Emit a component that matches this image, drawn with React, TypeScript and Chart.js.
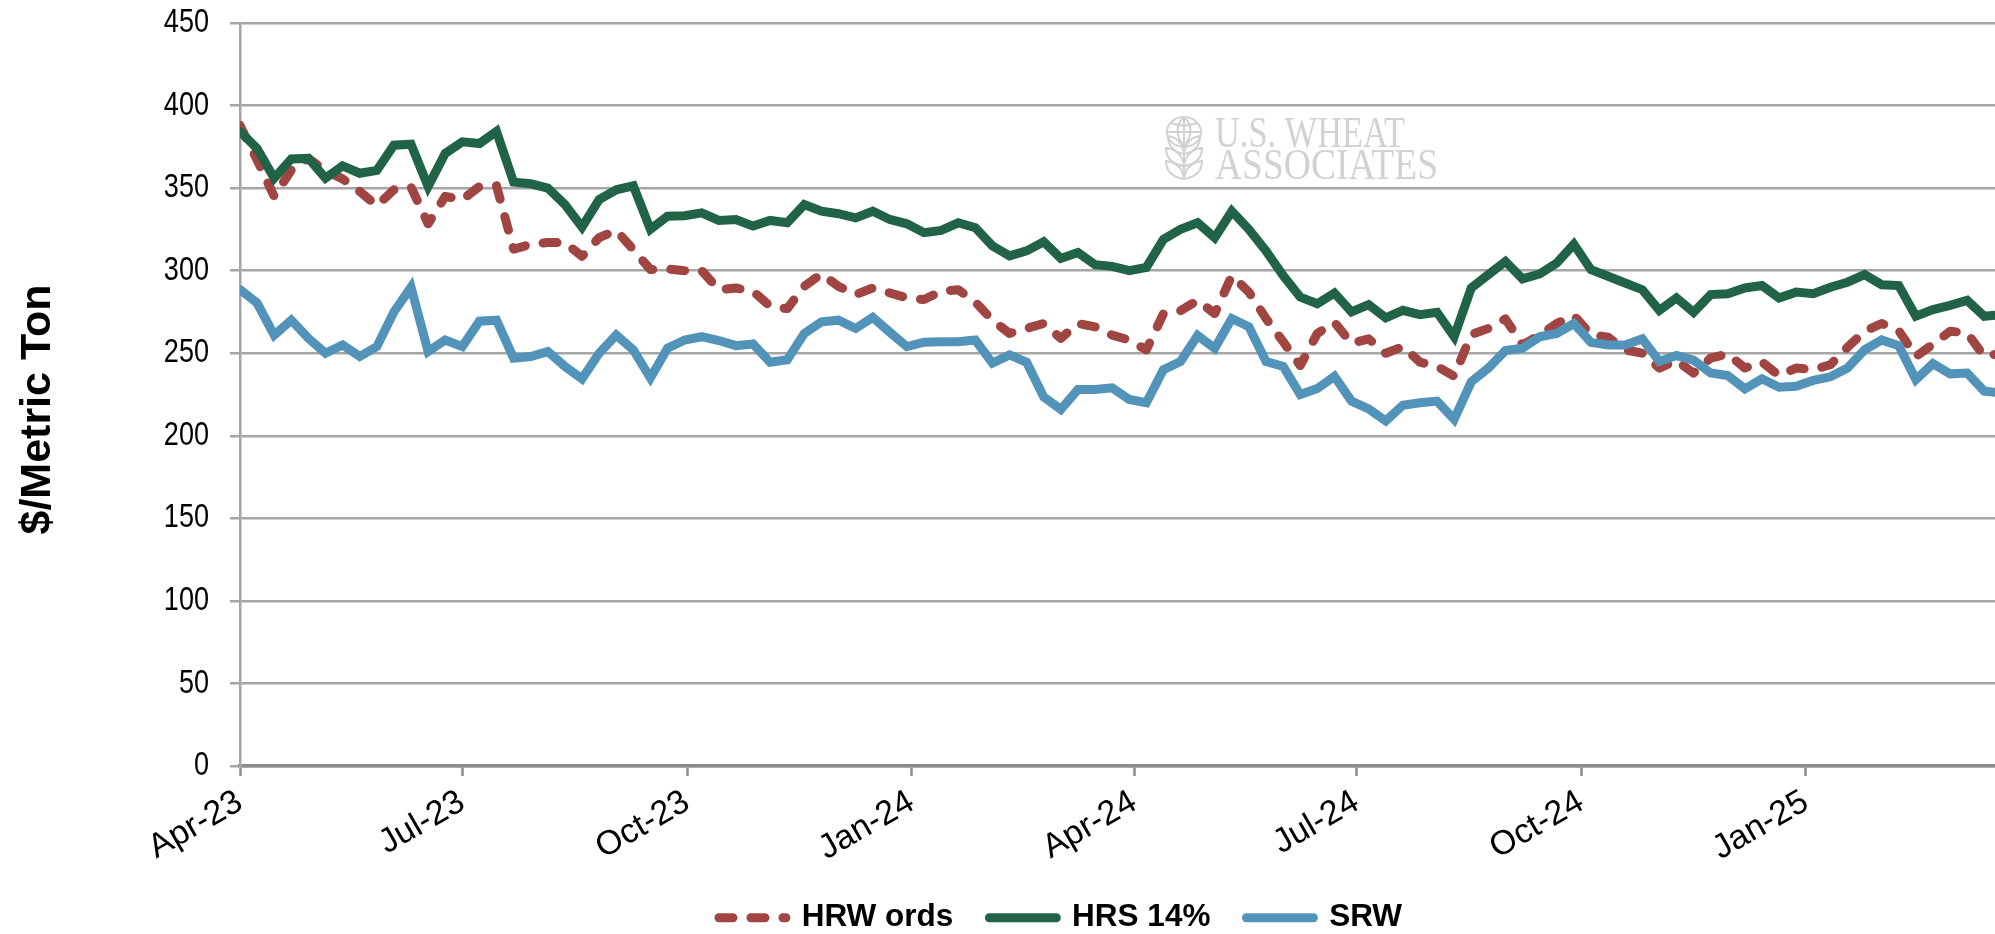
import React, { useEffect, useRef } from "react";
import { Chart, registerables, Scale } from "chart.js";

Chart.register(...registerables);

const hrwOrds = [388,367,345,361,368,360.5,355.6,348,339.3,349,350.6,328.4,345,343,351,351.4,313,316,317,317,308.7,320,324.4,312.7,300.7,301,300,300,288.5,289.5,287.5,278.4,277,290.5,298,290.5,285.5,289.5,286.5,283.5,282.5,287.5,288.5,281,270,262,265,268,259,268,266,261,258,252,274,275.7,282,274,297,287,271,257,242.5,262,268.7,256,258.7,250,254,244.6,242,236,261.3,265,270.8,255,261,268,272.8,261.3,259.7,252,250,241,245.6,238,247,249.6,241,244.8,236.5,241,240,243,253.6,263.3,268,263.7,248,255.4,263.3,262.3,248,250];
const hrs14 = [384.3,374,356,367.7,368,356,363.5,359,360.7,376,376.6,351,371,378,377,384.3,353.6,352.6,350,340,326.4,343,349,351.4,325,333,333.3,335,330.4,331,327,330.4,329,340,336,334.5,332,336,331,328.4,323,324.4,329,326,315,309,312,317.5,307.4,311,303.6,302.6,300,302,319,325,329,320,336,325,312,297,284,280,286.5,275,279.4,271.4,276,273.4,274.8,260,289.5,297.6,305.6,295,298,304.6,316,300.6,296.6,292.5,288.5,276,283.5,274.8,285.5,286,289.5,291,283.5,287,286,290,293,297.6,291.5,291,272.4,276.4,279,282,272.4,273.4];
const srw = [288.5,280.4,261,270,259,250,255,248,254,275,290,251,258,254,269.4,270,247,248,251,242,234.5,250,261,252,235,253,258,260,257.7,254.6,255.6,244.5,246,262,269,270,265,271.7,262.7,254,256.7,257,257,258,244,249,244.5,223.5,216,228,228,229,222,220,240,245,260.7,253,271,266,245,242,225,228.6,236,221,216.3,209,218.5,220,221,210,232.7,241,251.6,253,260,262,268,256.6,255,255,258.7,245,248.6,245.8,238,236.5,228.4,234.5,229.4,230,233.5,235.7,241,252,258,254.6,234,243.7,237.5,238,227,226];

const tickDays = [0, 91, 183, 275, 366, 457, 549, 641];
const tickLabels = ["Apr-23", "Jul-23", "Oct-23", "Jan-24", "Apr-24", "Jul-24", "Oct-24", "Jan-25"];
const seriesNames = ["HRW ords", "HRS 14%", "SRW"];
const DAYS_PER_WEEK = 7;

const W = 1995;
const H = 934;
const LEFT = 240;
const TOP = 23;
const BOTTOM = 766;
const GRID = "#A6A6A6";
const AXIS = "#8C8C8C";
const LOGO = "#D2D2D2";
const LINE = 9;
const DASH = [14, 18];

const toPoints = (vals: number[]) => vals.map((y, i) => ({ x: i * DAYS_PER_WEEK, y }));

const watermark = {
  id: "watermark",
  beforeDatasetsDraw(chart: any) {
    const c = chart.ctx;
    c.save();
    c.fillStyle = LOGO;
    c.strokeStyle = LOGO;
    c.textBaseline = "alphabetic";
    c.textAlign = "left";
    c.font = '45px "Liberation Serif"';
    c.fillText("U.S. WHEAT", 1215, 147, 190);
    c.fillText("ASSOCIATES", 1215, 179, 223);
    c.lineWidth = 2;
    const cx = 1184;
    c.beginPath();
    c.ellipse(cx, 132, 17, 15, 0, 0, Math.PI * 2);
    c.moveTo(cx, 117);
    c.lineTo(cx, 178);
    c.moveTo(cx - 17, 132);
    c.lineTo(cx + 17, 132);
    c.moveTo(cx - 13, 123);
    c.quadraticCurveTo(cx, 128, cx + 13, 123);
    c.moveTo(cx, 117);
    c.quadraticCurveTo(cx - 13, 130, cx, 146);
    c.moveTo(cx, 117);
    c.quadraticCurveTo(cx + 13, 130, cx, 146);
    [[136, 16], [148, 18], [161, 18]].forEach(([y, s]) => {
      c.moveTo(cx, y + 18);
      c.quadraticCurveTo(cx - s, y + 15, cx - s, y);
      c.quadraticCurveTo(cx - 2, y + 2, cx, y + 18);
      c.moveTo(cx, y + 18);
      c.quadraticCurveTo(cx + s, y + 15, cx + s, y);
      c.quadraticCurveTo(cx + 2, y + 2, cx, y + 18);
    });
    c.stroke();
    c.restore();
  },
};

const placeLegend = {
  id: "placeLegend",
  afterLayout(chart: any) {
    const l = chart.legend;
    const w = l.right - l.left;
    l.left = 63;
    l.right = 63 + w;
    l.top = 866;
    l.bottom = H;
    // the rotated tick labels need more room than the axis box, which clips them
    chart.scales.x.bottom = 866;
  },
};

export default function App() {
  const ref = useRef<HTMLCanvasElement>(null);
  useEffect(() => {
    document.body.style.margin = "0";
    const chart = new Chart(ref.current!, {
      type: "line",
      data: {
        datasets: [
          { label: seriesNames[0], data: toPoints(hrwOrds), borderColor: "#A04541", backgroundColor: "#A04541", borderWidth: LINE, borderDash: DASH, borderCapStyle: "round", borderJoinStyle: "round", order: 3 },
          { label: seriesNames[1], data: toPoints(hrs14), borderColor: "#206346", backgroundColor: "#206346", borderWidth: LINE, borderCapStyle: "round", borderJoinStyle: "miter", order: 2 },
          { label: seriesNames[2], data: toPoints(srw), borderColor: "#5293BA", backgroundColor: "#5293BA", borderWidth: LINE, borderCapStyle: "round", borderJoinStyle: "miter", order: 1 },
        ],
      },
      options: {
        responsive: false,
        animation: false,
        layout: { padding: { top: TOP, left: 0, right: 0, bottom: 0 } },
        elements: { point: { radius: 0 }, line: { tension: 0 } },
        plugins: {
          title: { display: false },
          tooltip: { enabled: false },
          legend: {
            display: true,
            position: "bottom",
            labels: {
              usePointStyle: true,
              pointStyleWidth: 67,
              padding: 36,
              color: "#000",
              font: { family: '"Liberation Sans"', size: 31.5, weight: "bold" },
              generateLabels: (chart: any) =>
                chart.data.datasets.map((d: any, i: number) => ({
                  text: d.label,
                  datasetIndex: i,
                  fontColor: "#000",
                  fillStyle: d.borderColor,
                  strokeStyle: d.borderColor,
                  lineWidth: LINE,
                  lineCap: "round",
                  lineDash: i === 0 ? DASH : [],
                  pointStyle: "line",
                })),
            },
          },
        },
        scales: {
          x: {
            type: "linear",
            min: 0,
            max: 718.4,
            afterBuildTicks: (axis: any) => {
              axis.ticks = tickDays.map((value) => ({ value }));
            },
            afterFit: (axis: any) => {
              axis.height = H - BOTTOM - (axis.chart.legend?.height || 0);
              axis.paddingLeft = 0;
              axis.paddingRight = 0;
            },
            grid: { display: true, drawOnChartArea: false, drawTicks: true, tickLength: 10, tickColor: AXIS, tickWidth: 2.5 },
            border: { display: true, color: AXIS, width: 3.5 },
            ticks: {
              autoSkip: false,
              minRotation: 30,
              maxRotation: 30,
              padding: 6,
              color: "#000",
              font: { family: '"Liberation Sans"', size: 34 },
              callback: (v: any) => tickLabels[tickDays.indexOf(Number(v))] ?? "",
            },
          },
          y: {
            min: 0,
            max: 450,
            afterFit: (axis: any) => {
              axis.width = LEFT;
              axis.paddingTop = 0;
              axis.paddingBottom = 0;
              axis.drawTitle = function () {
                const c = this.ctx;
                c.save();
                c.translate(0, 15);
                Scale.prototype.drawTitle.call(this);
                c.restore();
              };
              // the reference's tick digits are condensed: squeeze them about their right edge
              axis.drawLabels = function (area: any) {
                const c = this.ctx;
                const edge = 209;
                c.save();
                c.translate(edge, 0);
                c.scale(0.82, 1);
                c.translate(-edge, 0);
                Scale.prototype.drawLabels.call(this, area);
                c.restore();
              };
            },
            grid: { color: GRID, lineWidth: 2.5, tickLength: 10, tickColor: GRID, tickWidth: 2.5 },
            border: { display: true, color: GRID, width: 2.5 },
            ticks: {
              stepSize: 50,
              padding: 21,
              color: "#000",
              font: { family: '"Liberation Sans"', size: 33 },
            },
            title: {
              display: true,
              text: "$/Metric Ton",
              color: "#000",
              padding: { top: 12, bottom: 0 },
              font: { family: '"Liberation Sans"', size: 43, weight: "bold" },
            },
          },
        },
      },
      plugins: [watermark, placeLegend],
    } as any);
    return () => chart.destroy();
  }, []);
  return <canvas ref={ref} width={W} height={H} style={{ display: "block", width: W, height: H }} />;
}
